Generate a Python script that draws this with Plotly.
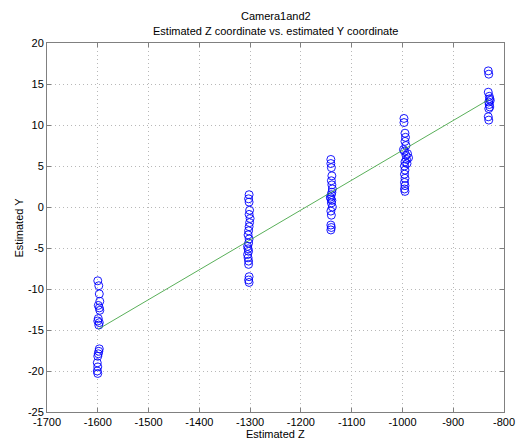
import plotly.graph_objects as go

# Cluster 1 (Z ~ -1600)
z1 = [-1600, -1598, -1597, -1596, -1599, -1597, -1596, -1599, -1600, -1597, -1598, -1597, -1598, -1599, -1600, -1601, -1600, -1601, -1600]
y1 = [-9.0, -9.6, -10.6, -11.5, -12.0, -12.3, -12.6, -13.6, -13.9, -14.1, -14.4, -17.3, -17.6, -17.9, -18.2, -19.0, -19.5, -20.0, -20.3]
# Cluster 2 (Z ~ -1303)
z2 = [-1302, -1303, -1302, -1301, -1302, -1300, -1301, -1302, -1303, -1304, -1302, -1303, -1305, -1304, -1303, -1305, -1304, -1303, -1303, -1302, -1303, -1302]
y2 = [1.5, 1.0, 0.6, -0.4, -0.9, -1.4, -1.9, -2.4, -2.9, -3.4, -3.9, -4.4, -4.8, -5.1, -5.4, -5.8, -6.2, -6.6, -7.0, -8.5, -8.9, -9.2]
# Cluster 3 (Z ~ -1140)
z3 = [-1141, -1141, -1140, -1139, -1140, -1139, -1138, -1139, -1140, -1142, -1141, -1139, -1140, -1138, -1141, -1140, -1141, -1140, -1141]
y3 = [5.8, 5.3, 4.8, 3.8, 3.2, 2.7, 2.2, 1.8, 1.5, 1.2, 1.0, 0.8, 0.5, 0.0, -0.5, -1.0, -2.2, -2.5, -2.8]
# Cluster 4 (Z ~ -995)
z4 = [-997, -997, -995, -994, -995, -993, -998, -996, -990, -993, -988, -992, -995, -991, -996, -995, -996, -995, -996, -995, -996, -995]
y4 = [10.8, 10.3, 9.0, 8.5, 8.0, 7.5, 7.0, 6.8, 6.5, 6.3, 6.0, 5.8, 5.5, 5.3, 5.0, 4.5, 4.0, 3.5, 3.0, 2.6, 2.2, 1.9]
# Cluster 5 (Z ~ -830)
z5 = [-831, -830, -831, -829, -828, -827, -830, -829, -828, -830, -831, -830]
y5 = [16.6, 16.2, 14.0, 13.5, 13.2, 13.0, 12.8, 12.5, 12.2, 12.0, 11.0, 10.6]

est_z = z1 + z2 + z3 + z4 + z5
est_y = y1 + y2 + y3 + y4 + y5

# Fitted line endpoints
fit_z = [-1599, -830]
fit_y = [-14.9, 13.1]

x_ticks = list(range(-1700, -799, 100))
y_ticks = list(range(-25, 21, 5))

font = dict(family="Liberation Sans, Arial, sans-serif", size=11, color="#000000")

fig = go.Figure()
fig.add_trace(go.Scatter(
    x=est_z, y=est_y, mode="markers",
    marker=dict(symbol="circle-open", size=8, color="#0000ff", line=dict(width=0.9, color="#0000ff")),
    showlegend=False,
))
fig.add_trace(go.Scatter(
    x=fit_z, y=fit_y, mode="lines",
    line=dict(color="#2e9a2e", width=0.8),
    showlegend=False,
))

axis_common = dict(
    showline=True, linecolor="#808080", linewidth=1, mirror="ticks",
    ticks="inside", ticklen=4, tickcolor="#808080",
    showgrid=True, gridcolor="#b8b8b8", griddash="1px,3px", gridwidth=1,
    zeroline=False, tickfont=font,
)

fig.update_layout(
    width=527, height=440,
    margin=dict(l=47, r=15, t=43, b=27),
    paper_bgcolor="white", plot_bgcolor="white",
    font=font,
    xaxis=dict(range=[-1700, -800], tickvals=x_ticks, ticktext=[str(v) for v in x_ticks], **axis_common),
    yaxis=dict(range=[-25, 20], tickvals=y_ticks, ticktext=[str(v) for v in y_ticks], **axis_common),
    annotations=[
        dict(text="Camera1and2", x=0.5, y=1, xref="paper", yref="paper", yshift=27,
             showarrow=False, font=font, xanchor="center", yanchor="middle"),
        dict(text="Estimated Z coordinate vs. estimated Y coordinate", x=0.5, y=1, xref="paper", yref="paper", yshift=12,
             showarrow=False, font=font, xanchor="center", yanchor="middle"),
        dict(text="Estimated Z", x=0.5, y=0, xref="paper", yref="paper", yshift=-22,
             showarrow=False, font=font, xanchor="center", yanchor="middle"),
        dict(text="Estimated Y", x=0, y=0.5, xref="paper", yref="paper", xshift=-29, textangle=-90,
             showarrow=False, font=font, xanchor="center", yanchor="middle"),
    ],
)

fig.write_html("out.html")
